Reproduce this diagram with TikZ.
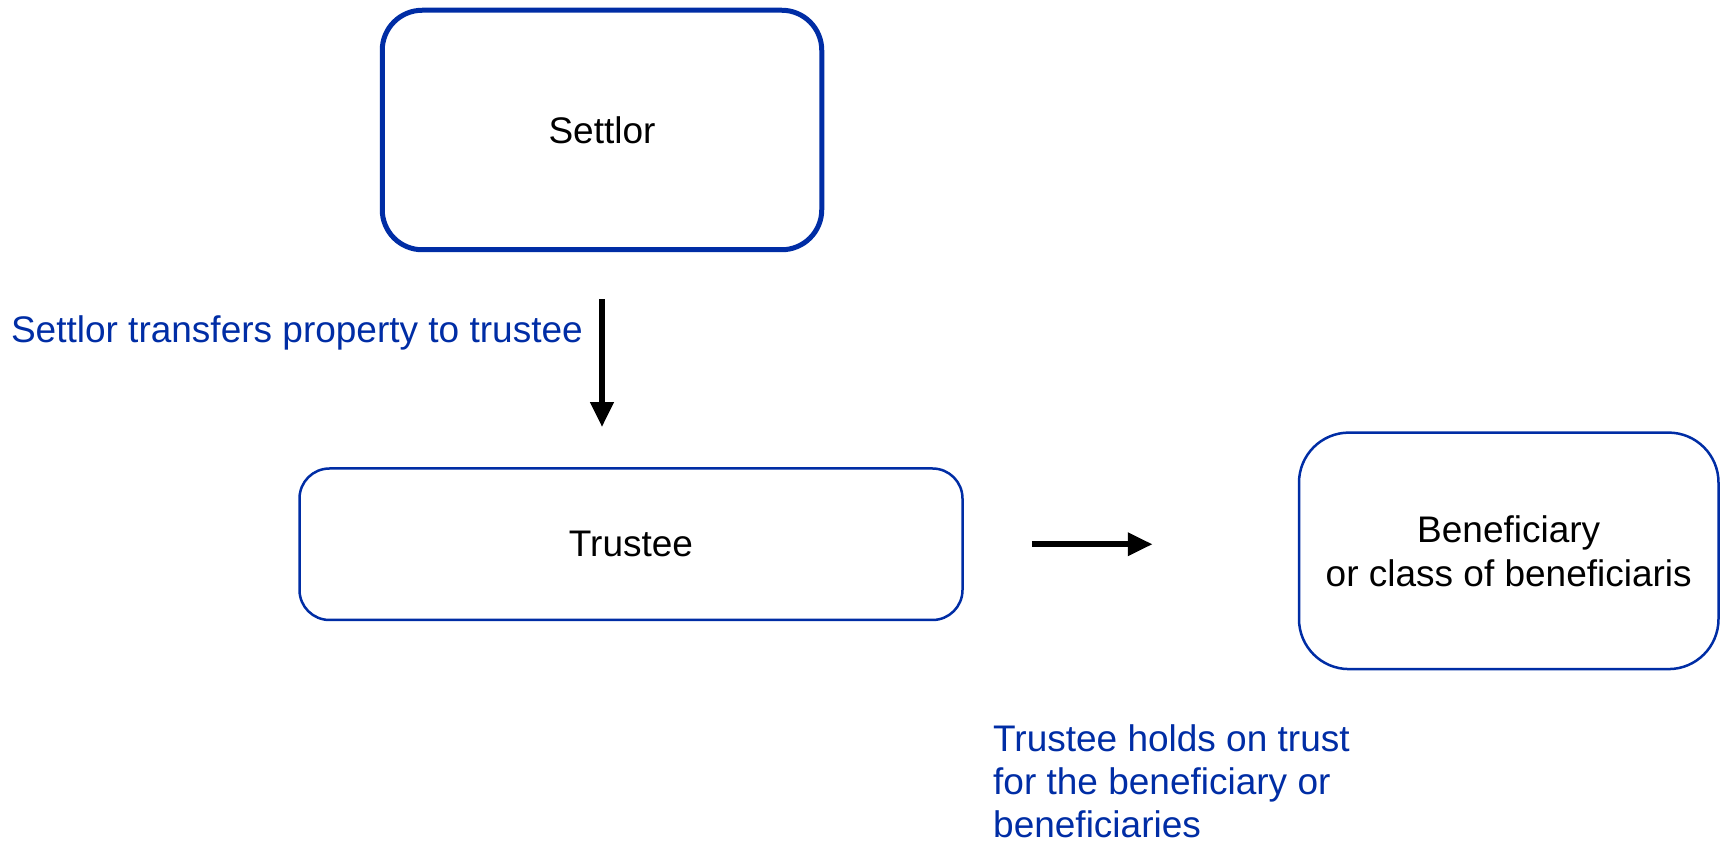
\documentclass[tikz,border=0pt]{standalone}
\usepackage{fontspec}
\setmainfont{Liberation Sans}
\usetikzlibrary{arrows.meta,positioning}
\definecolor{trustblue}{RGB}{0,45,165}

\begin{document}
\begin{tikzpicture}[
        x=1pt, y=1pt,
        partybox/.style={
        rectangle,
        draw=trustblue,
        line width=2.5pt,
        fill=white,
        align=center,
        font=\fontsize{37}{44}\selectfont},
    noteblue/.style={
        text=trustblue,
        inner sep=0pt,
        font=\fontsize{37}{43}\selectfont},
    myarrow/.style={-{Triangle[width=22pt,length=25pt]}, line width=6.5pt}
    ]
    \useasboundingbox (0,0) rectangle (1725,844);

    \node[partybox, line width=5pt, rounded corners=40pt,
        minimum width=439.5pt, minimum height=239.5pt] (settlor) at (602,714) {Settlor};
    \node[partybox, rounded corners=30pt, minimum width=663pt, minimum height=151.5pt,
        below=215pt of settlor, xshift=29pt] (trustee) {Trustee};
    \node[partybox, rounded corners=50pt, minimum width=419.5pt, minimum height=236.5pt,
        right=334pt of trustee, yshift=-6.6pt] (benef) {Beneficiary\\ or class of beneficiaris};

    \draw[myarrow, shorten <=47pt, shorten >=40pt] (settlor.south)
        -- node[noteblue, left=16pt, pos=0.373] (transfernote) {Settlor transfers property to trustee}
        (settlor.south |- trustee.north);
    \draw[myarrow, shorten <=68pt, shorten >=145pt] (trustee.east) -- (trustee.east -| benef.west);

    % note under the right-hand arrow
    \node[noteblue, align=left, anchor=north west] (holdsnote) at (993,120)
        {Trustee holds on trust\\for the beneficiary or\\beneficiaries};
\end{tikzpicture}
\end{document}
